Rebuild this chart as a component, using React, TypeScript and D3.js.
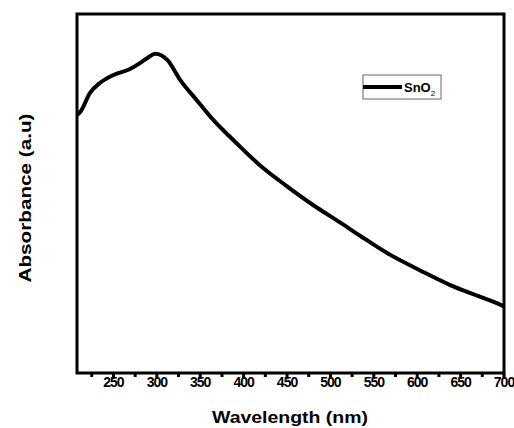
import { useEffect, useRef } from 'react'
import * as d3 from 'd3'

// absorbance spectrum (arbitrary units)
const wavelengths = [208, 212, 223, 235, 250, 269, 281, 290, 298, 305, 312, 327, 346, 365, 382, 388, 419, 450, 480, 512, 535, 569, 604, 638, 673, 696, 700]
const absorbance = [0.719, 0.728, 0.78, 0.809, 0.83, 0.847, 0.864, 0.879, 0.889, 0.885, 0.872, 0.816, 0.76, 0.705, 0.663, 0.649, 0.578, 0.52, 0.468, 0.418, 0.381, 0.329, 0.285, 0.245, 0.212, 0.19, 0.185]
const majorTicks = [250, 300, 350, 400, 450, 500, 550, 600, 650, 700]
const minorTicks = [225, 275, 325, 375, 425, 475, 525, 575, 625, 675]
const seriesName = 'SnO'

const W = 514
const H = 428
const FRAME = { left: 77, top: 14, right: 504, bottom: 373 }
const FONT = '"Liberation Sans", Arial, sans-serif'

export default function App() {
  const svgRef = useRef<SVGSVGElement>(null)

  useEffect(() => {
    if (!svgRef.current) return
    const svg = d3.select(svgRef.current)
    svg.selectAll('*').remove()

    const x = d3.scaleLinear().domain([208, 700]).range([FRAME.left, FRAME.right])
    const y = d3.scaleLinear().domain([0, 1]).range([FRAME.bottom, FRAME.top])

    const data = wavelengths.map((w, i) => ({ w, a: absorbance[i] }))

    // curve
    const line = d3.line<{ w: number; a: number }>()
      .x((d) => x(d.w))
      .y((d) => y(d.a))
      .curve(d3.curveMonotoneX)

    svg.append('path')
      .datum(data)
      .attr('d', line)
      .attr('fill', 'none')
      .attr('stroke', '#000')
      .attr('stroke-width', 4)
      .attr('stroke-linejoin', 'round')

    // frame
    svg.append('rect')
      .attr('x', FRAME.left)
      .attr('y', FRAME.top)
      .attr('width', FRAME.right - FRAME.left)
      .attr('height', FRAME.bottom - FRAME.top)
      .attr('fill', 'none')
      .attr('stroke', '#000')
      .attr('stroke-width', 3)

    // bottom axis
    const axis = svg.append('g').attr('transform', `translate(0,${FRAME.bottom})`)
    axis.selectAll('line.major')
      .data(majorTicks)
      .join('line')
      .attr('class', 'major')
      .attr('x1', (d) => x(d)).attr('x2', (d) => x(d))
      .attr('y1', 0).attr('y2', 6)
      .attr('stroke', '#000').attr('stroke-width', 3)
    axis.selectAll('line.minor')
      .data(minorTicks)
      .join('line')
      .attr('class', 'minor')
      .attr('x1', (d) => x(d)).attr('x2', (d) => x(d))
      .attr('y1', 0).attr('y2', 4)
      .attr('stroke', '#000').attr('stroke-width', 3)
    axis.selectAll('text')
      .data(majorTicks)
      .join('text')
      .attr('x', (d) => x(d))
      .attr('y', 14)
      .attr('text-anchor', 'middle')
      .attr('font-family', FONT)
      .attr('font-weight', 'bold')
      .attr('font-size', 14)
      .attr('letter-spacing', -1)
      .text((d) => d)

    // axis labels
    svg.append('text')
      .attr('x', 290)
      .attr('y', 423)
      .attr('text-anchor', 'middle')
      .attr('font-family', FONT)
      .attr('font-weight', 'bold')
      .attr('font-size', 16)
      .attr('textLength', 156)
      .attr('lengthAdjust', 'spacingAndGlyphs')
      .text('Wavelength (nm)')

    svg.append('text')
      .attr('transform', 'translate(31,198) rotate(-90)')
      .attr('text-anchor', 'middle')
      .attr('font-family', FONT)
      .attr('font-weight', 'bold')
      .attr('font-size', 16)
      .attr('textLength', 169)
      .attr('lengthAdjust', 'spacingAndGlyphs')
      .text('Absorbance (a.u)')

    // legend
    const lg = svg.append('g').attr('transform', 'translate(363,75)')
    lg.append('rect')
      .attr('width', 78).attr('height', 24)
      .attr('fill', '#fff')
      .attr('stroke', '#666').attr('stroke-width', 1)
    lg.append('line')
      .attr('x1', 0).attr('x2', 39)
      .attr('y1', 12).attr('y2', 12)
      .attr('stroke', '#000').attr('stroke-width', 4)
    const lt = lg.append('text')
      .attr('x', 41).attr('y', 17)
      .attr('font-family', FONT)
      .attr('font-weight', 'bold')
      .attr('font-size', 13)
    lt.append('tspan').text(seriesName)
    lt.append('tspan').attr('font-size', 8).attr('dy', 4).attr('font-weight', 'normal').text('2')
  }, [])

  return (
    <svg
      ref={svgRef}
      width={W}
      height={H}
      style={{ position: 'absolute', left: 0, top: 0, background: '#fff' }}
    />
  )
}
